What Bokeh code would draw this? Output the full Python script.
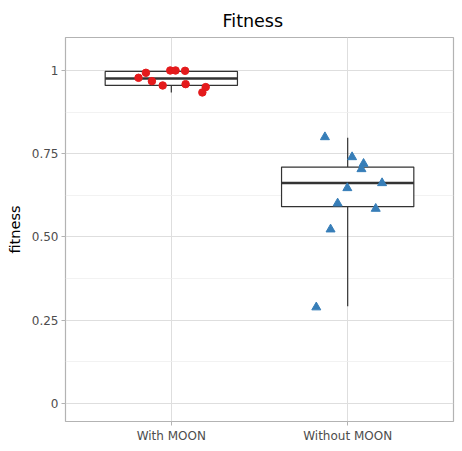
from bokeh.plotting import figure
from bokeh.models import Range1d, FixedTicker, ColumnDataSource
from bokeh.embed import file_html
from bokeh.resources import INLINE

# ---- data ----
categories = ["With MOON", "Without MOON"]
cat_pos = [1, 2]

# points (group index, jitter offset, value)
with_jitter = [-0.186, -0.144, -0.110, -0.049, -0.006, 0.024, 0.078, 0.081, 0.176, 0.195]
with_vals = [0.978, 0.993, 0.968, 0.955, 1.000, 1.000, 0.999, 0.959, 0.934, 0.950]

without_jitter = [-0.129, 0.025, 0.090, 0.078, 0.195, -0.002, -0.057, 0.159, -0.097, -0.178]
without_vals = [0.800, 0.740, 0.720, 0.704, 0.662, 0.647, 0.601, 0.585, 0.523, 0.289]

# box statistics: lower whisker, q1, median, q3, upper whisker
box_low = [0.934, 0.292]
box_q1 = [0.955, 0.591]
box_med = [0.976, 0.662]
box_q3 = [0.997, 0.710]
box_high = [0.999, 0.798]
box_width = 0.75

y_ticks = [0, 0.25, 0.5, 0.75, 1.0]
y_tick_labels = ["0", "0.25", "0.50", "0.75", "1"]
y_minor = [0.125, 0.375, 0.625, 0.875]

p = figure(width=462, height=451, output_backend="svg", toolbar_location=None,
           x_range=Range1d(0.4, 2.6), y_range=Range1d(-0.054, 1.099),
           min_border_left=65, min_border_right=9, min_border_top=37, min_border_bottom=30)

p.title.text = "Fitness"
p.title.align = "left"
p.title.offset = 157
p.title.standoff = 14
p.title.text_font = "DejaVu Sans"
p.title.text_font_size = "17.5px"
p.title.text_font_style = "normal"
p.title.text_color = "black"

p.background_fill_color = "white"
p.border_fill_color = "white"
p.outline_line_color = "#b3b3b3"
p.outline_line_width = 1.2

# axes
p.xaxis.ticker = FixedTicker(ticks=cat_pos)
p.xaxis.major_label_overrides = {c: l for c, l in zip(cat_pos, categories)}
p.yaxis.ticker = FixedTicker(ticks=y_ticks, minor_ticks=y_minor)
p.yaxis.major_label_overrides = {t: l for t, l in zip(y_ticks, y_tick_labels)}
p.yaxis.axis_label = "fitness"
for ax in (p.xaxis, p.yaxis):
    ax.axis_line_color = None
    ax.major_tick_line_color = "#b3b3b3"
    ax.major_tick_in = 0
    ax.major_tick_out = 4
    ax.minor_tick_line_color = None
    ax.major_label_text_font = "DejaVu Sans"
    ax.major_label_text_font_size = "12px"
    ax.major_label_text_color = "#4d4d4d"
    ax.major_label_standoff = 3
p.yaxis.axis_label_text_font = "DejaVu Sans"
p.yaxis.axis_label_text_font_size = "14.5px"
p.yaxis.axis_label_text_font_style = "normal"
p.yaxis.axis_label_text_color = "black"
p.yaxis.axis_label_standoff = 6

# grids
p.xgrid.ticker = FixedTicker(ticks=cat_pos)
p.xgrid.grid_line_color = "#dedede"
p.xgrid.grid_line_width = 1
p.ygrid.ticker = FixedTicker(ticks=y_ticks, minor_ticks=y_minor)
p.ygrid.grid_line_color = "#dedede"
p.ygrid.grid_line_width = 1
p.ygrid.minor_grid_line_color = "#efefef"
p.ygrid.minor_grid_line_width = 0.8

# boxes
bsrc = ColumnDataSource(dict(
    x=cat_pos,
    left=[c - box_width / 2 for c in cat_pos],
    right=[c + box_width / 2 for c in cat_pos],
    low=box_low, q1=box_q1, med=box_med, q3=box_q3, high=box_high,
))
p.segment(x0="x", y0="q3", x1="x", y1="high", source=bsrc, line_color="#333333", line_width=1.2)
p.segment(x0="x", y0="low", x1="x", y1="q1", source=bsrc, line_color="#333333", line_width=1.2)
p.quad(left="left", right="right", bottom="q1", top="q3", source=bsrc,
       fill_color="white", line_color="#333333", line_width=1.2)
p.segment(x0="left", y0="med", x1="right", y1="med", source=bsrc, line_color="#333333", line_width=2.4)

# points
p.scatter(x=[cat_pos[0] + j for j in with_jitter], y=with_vals, marker="circle",
          size=7.5, fill_color="#E41A1C", line_color="#E41A1C")
p.scatter(x=[cat_pos[1] + j for j in without_jitter], y=without_vals, marker="triangle",
          size=9, fill_color="#377EB8", line_color="#377EB8")

open("out.html", "w").write(file_html(p, INLINE))
